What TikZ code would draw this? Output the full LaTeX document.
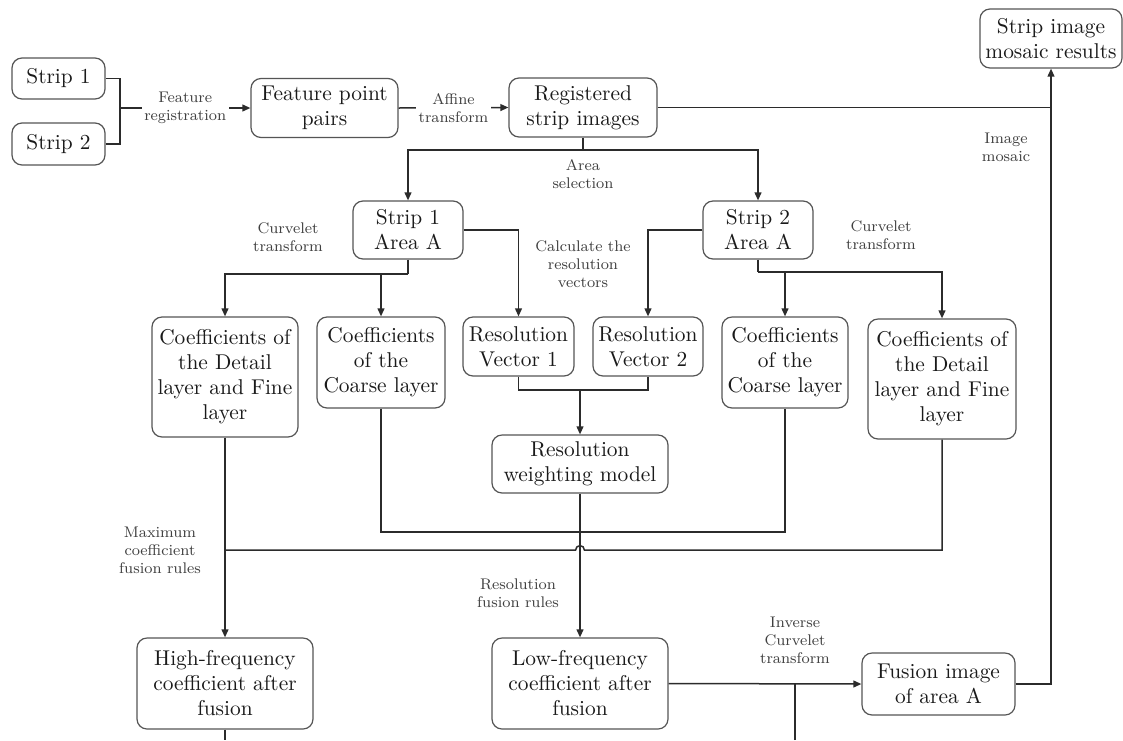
\documentclass[tikz,border=0pt]{standalone}
\usetikzlibrary{arrows.meta}
\definecolor{linec}{HTML}{2B2B2B}
\definecolor{boxc}{HTML}{555555}
\definecolor{textc}{HTML}{1A1A1A}
\newcommand{\boxfont}{\fontsize{10.7}{12.5}\selectfont}
\newcommand{\lblfont}{\fontsize{7.7}{9}\selectfont}
\begin{document}
\begin{tikzpicture}[x=0.5pt,y=-0.5pt,
  box/.style={draw=boxc, line width=0.6pt, rounded corners=5pt, align=center,
    font=\boxfont, text=textc, inner sep=0pt, fill=white},
  sz/.style 2 args={minimum width=#1*0.5pt, minimum height=#2*0.5pt},
  lbl/.style={font=\lblfont, align=center, text=black!75, inner sep=1.2pt},
  conn/.style={draw=linec, line width=0.75pt},
  arr/.style={conn, -{Triangle[length=4pt,width=3.4pt]}}]
\useasboundingbox[fill=white] (0,0) rectangle (1123,740);

% nodes
\node[box, sz={93}{41}] (s1) at (58.5,78.5) {Strip 1};
\node[box, sz={93}{42}] (s2) at (58.5,144) {Strip 2};
\node[box, sz={147}{59}] (fpp) at (324.5,108) {Feature point\\pairs};
\node[box, sz={148}{59}] (reg) at (583,107.5) {Registered\\strip images};
\node[box, sz={142}{59}] (mos) at (1051,38.5) {Strip image\\mosaic results};
\node[box, sz={110}{58}] (a1) at (408,230) {Strip 1\\Area A};
\node[box, sz={110}{58}] (a2) at (758,230) {Strip 2\\Area A};
\node[box, sz={146}{120}] (dl) at (225,377) {Coefficients of\\the Detail\\layer and Fine\\layer};
\node[box, sz={128}{91}] (cl) at (381,362.5) {Coefficients\\of the\\Coarse layer};
\node[box, sz={111}{59}] (rv1) at (518.5,346.5) {Resolution\\Vector 1};
\node[box, sz={110}{59}] (rv2) at (648,346.5) {Resolution\\Vector 2};
\node[box, sz={126}{91}] (cr) at (785,362.5) {Coefficients\\of the\\Coarse layer};
\node[box, sz={148}{120}] (dr) at (942,379) {Coefficients of\\the Detail\\layer and Fine\\layer};
\node[box, sz={176}{58}] (wm) at (580,464) {Resolution\\weighting model};
\node[box, sz={176}{91}] (hf) at (225,683.5) {High-frequency\\coefficient after\\fusion};
\node[box, sz={176}{91}] (lf) at (580,683.5) {Low-frequency\\coefficient after\\fusion};
\node[box, sz={153}{62}] (fi) at (938.5,684) {Fusion image\\of area A};

% coordinates
\coordinate (jf) at (120,108);
\coordinate (as) at (583,150);
\coordinate (b1) at (408,274);
\coordinate (b2) at (758,272);
\coordinate (rj) at (580,390);
\coordinate (cj) at (580,532);
\coordinate (hj) at (580,550);
\coordinate (hb) at (225,740);
\coordinate (ib) at (795,740);

% connectors
\draw[conn] (s1.east) -| (jf);
\draw[conn] (s2.east) -| (jf);
\draw[arr] (jf) -- node[lbl, fill=white] {Feature\\registration} (fpp.west);
\draw[arr] (fpp.east) -- node[lbl, fill=white] {Affine\\transform} (reg.west);
\draw[conn] (reg.east) -- (reg.east -| mos.south);
\draw[arr] (fi.east) -| (mos.south);

\draw[conn] (reg.south) -- (as);
\draw[arr] (as) -| (a1.north);
\draw[arr] (as) -| (a2.north);

\draw[conn] (a1.south) -- (b1);
\draw[arr] (b1) -| (dl.north);
\draw[arr] (b1 -| cl.north) -- (cl.north);
\draw[arr] (a1.east) -| (rv1.north);

\draw[conn] (a2.south) -- (b2);
\draw[arr] (b2) -| (dr.north);
\draw[arr] (b2 -| cr.north) -- (cr.north);
\draw[arr] (a2.west) -| (rv2.north);

\draw[conn] (rv1.south) |- (rj) -| (rv2.south);
\draw[arr] (rj) -- (wm.north);

\draw[conn] (cl.south) |- (cj) -| (cr.south);
\draw[arr] (wm.south) -- (lf.north);

\draw[conn] (dr.south) |- ([xshift=2.2pt]hj) arc[start angle=0, end angle=180, radius=2.2pt] -- (dl.south |- hj);
\draw[arr] (dl.south) -- (hf.north);

\draw[conn] (hf.south) -- (hb);
\draw[arr] (lf.east) -- (fi.west);
\draw[conn] (ib) -- (ib |- lf.east);

% labels
\node[lbl] (lmos) at (1006,147) {Image\\mosaic};
\node[lbl] (lsel) at (583,174) {Area\\selection};
\node[lbl] (lcv1) at (288,237) {Curvelet\\transform};
\node[lbl] (lcv2) at (881,235) {Curvelet\\transform};
\node[lbl] (lcalc) at (583,264) {Calculate the\\resolution\\vectors};
\node[lbl] (lmax) at (160,550) {Maximum\\coefficient\\fusion rules};
\node[lbl] (lres) at (518,593) {Resolution\\fusion rules};
\node[lbl] (linv) at (795,640) {Inverse\\Curvelet\\transform};
\end{tikzpicture}
\end{document}
